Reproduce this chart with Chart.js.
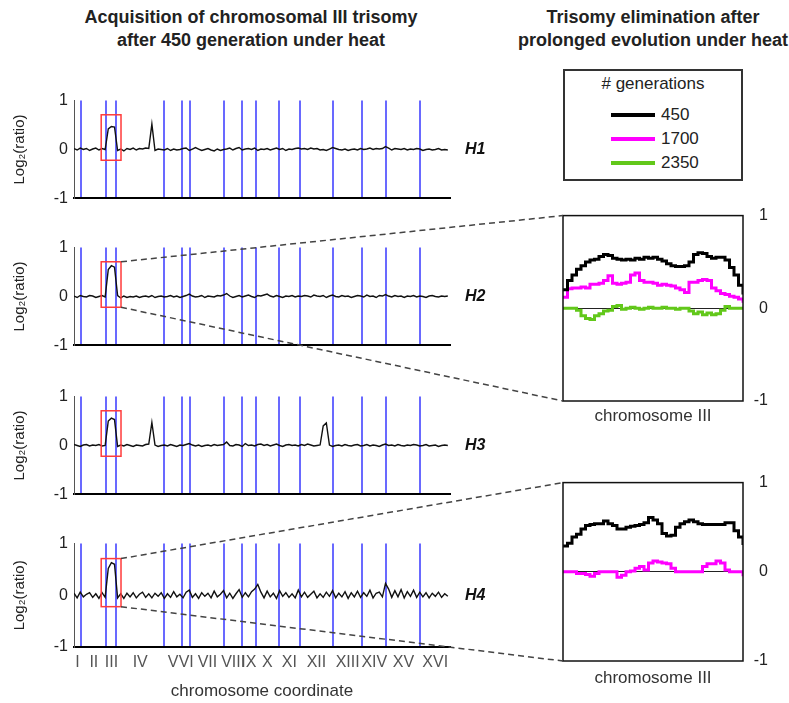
<!DOCTYPE html>
<html>
<head>
<meta charset="utf-8">
<script src="https://cdn.jsdelivr.net/npm/chart.js@4.4.1/dist/chart.umd.min.js"></script>
<style>
html, body { margin: 0; padding: 0; background: #fff; }
body { width: 789px; height: 703px; position: relative; overflow: hidden; font-family: 'Liberation Sans', Arial, sans-serif; color: #222; }
canvas { position: absolute; }
.title { position: absolute; text-align: center; font-weight: bold; font-size: 18px; line-height: 23px; white-space: nowrap; color: #222; }
#legend { position: absolute; left: 563px; top: 69px; width: 180px; height: 112px; box-sizing: border-box; border: 2px solid #333; }
#legend .head { position: absolute; left: 0; right: 0; top: 3px; text-align: center; font-size: 17px; line-height: 20px; }
#legend .row { position: absolute; left: 46px; height: 20px; font-size: 17px; line-height: 20px; }
#legend .row span { display: inline-block; width: 44px; height: 4px; vertical-align: middle; margin-right: 6px; position: relative; top: -1px; }
</style>
</head>
<body>
<div class="title" style="left:0;width:502px;top:6px;">Acquisition of chromosomal III trisomy<br>after 450 generation under heat</div>
<div class="title" style="left:503px;width:300px;top:6px;">Trisomy elimination after<br>prolonged evolution under heat</div>

<canvas id="h1" width="500" height="129" style="left:0;top:85px;"></canvas>
<canvas id="h2" width="500" height="129" style="left:0;top:232px;"></canvas>
<canvas id="h3" width="500" height="129" style="left:0;top:381px;"></canvas>
<canvas id="h4" width="500" height="174" style="left:0;top:528px;"></canvas>
<canvas id="z2" width="228" height="233" style="left:540px;top:194px;"></canvas>
<canvas id="z4" width="228" height="228" style="left:540px;top:461px;"></canvas>
<div id="legend"></div>
<canvas id="links" width="789" height="703" style="left:0;top:0;pointer-events:none;"></canvas>

<script>
// yeast chromosomes (kb)
const chrNames = ['I','II','III','IV','V','VI','VII','VIII','IX','X','XI','XII','XIII','XIV','XV','XVI'];
const chrLenKb = [230, 813, 316, 1532, 577, 270, 1091, 563, 440, 746, 667, 1078, 924, 784, 1091, 948];
const yTicks = [-1, 0, 1];
const probeStepKb = 100;   // genome-wide profiles: one value every 100 kb

const strainLabels = ['H1', 'H2', 'H3', 'H4'];

const h1Ratio = [
  0.02,-0.01,0.03,0.00,0.02,-0.02,0.01,0.03,-0.01,0.02,
  0.00,0.42,0.47,0.46,-0.02,0.01,-0.03,0.02,0.00,0.03,
  -0.01,0.02,0.01,0.03,0.02,0.52,-0.02,0.01,0.00,-0.01,
  0.02,-0.02,0.01,-0.01,0.00,0.02,0.03,-0.02,0.01,0.04,
  0.01,-0.02,0.00,0.02,-0.01,-0.03,0.01,-0.02,0.00,0.01,
  0.03,-0.01,0.02,0.04,-0.01,0.01,0.02,0.00,0.03,-0.02,
  0.01,0.00,0.02,-0.01,0.01,0.03,0.00,0.02,-0.02,0.01,
  0.00,0.02,0.03,0.01,0.02,0.00,0.03,0.01,0.02,-0.01,
  0.00,-0.02,0.01,0.04,0.02,0.00,-0.01,0.01,-0.02,0.00,
  0.01,-0.01,0.02,0.00,0.01,0.03,0.00,0.02,0.01,0.02,
  0.06,0.03,-0.01,0.02,0.01,0.00,0.02,-0.01,0.01,0.00,
  0.02,0.01,-0.02,0.00,0.01,-0.01,0.00,0.02,-0.01,0.00,
  -0.01
];
const h2Ratio = [
  0.01,-0.02,0.02,0.00,-0.01,0.02,0.01,-0.02,0.00,0.02,
  -0.01,0.55,0.63,0.60,0.02,-0.03,0.01,-0.02,0.00,-0.01,
  0.01,-0.02,0.00,0.01,-0.01,0.02,-0.02,0.00,0.01,-0.01,
  0.00,0.02,-0.01,0.01,-0.02,0.00,0.02,0.05,0.01,-0.01,
  0.00,0.02,-0.02,0.01,0.00,-0.01,0.02,0.01,0.03,0.06,
  0.01,-0.02,0.00,0.02,-0.01,0.01,0.03,0.00,-0.02,0.02,
  0.01,0.03,0.05,0.01,-0.01,0.02,0.00,-0.02,0.01,0.00,
  0.02,-0.01,0.01,0.00,0.02,0.01,-0.01,0.03,0.01,0.00,
  0.02,-0.02,0.01,0.03,0.00,-0.01,0.02,0.00,0.01,-0.02,
  0.00,0.02,0.01,-0.01,0.03,0.00,0.01,-0.02,0.02,0.01,
  0.04,0.01,-0.01,0.02,0.00,0.01,-0.02,0.01,0.00,0.02,
  -0.01,0.01,0.00,-0.02,0.01,0.02,0.00,-0.01,0.01,0.00,
  0.01
];
const h3Ratio = [
  0.02,0.00,-0.02,0.01,0.02,-0.01,0.01,0.00,0.02,-0.01,
  0.00,0.50,0.56,0.53,-0.02,0.01,-0.01,0.02,0.00,-0.02,
  0.01,0.00,-0.01,0.02,0.03,0.47,0.01,-0.02,0.00,0.01,
  -0.01,0.02,0.00,-0.02,0.01,0.00,0.02,0.04,0.01,-0.01,
  0.01,-0.02,0.00,0.01,-0.01,0.02,0.00,0.01,0.02,0.07,
  0.00,-0.01,0.02,0.01,-0.02,0.04,0.00,0.01,-0.01,0.02,
  0.03,0.00,0.02,-0.01,0.01,0.03,0.00,-0.02,0.01,0.02,
  0.00,0.01,-0.01,0.02,0.00,0.03,0.01,-0.01,0.00,0.01,
  0.40,0.46,0.01,-0.02,0.00,0.01,-0.01,0.02,0.00,-0.01,
  0.01,0.02,-0.01,0.00,0.02,-0.01,0.01,0.00,-0.02,0.01,
  0.03,0.00,0.01,-0.01,0.02,0.00,-0.01,0.01,0.00,0.02,
  0.01,-0.01,0.00,0.02,-0.01,0.00,0.01,-0.02,0.00,0.01,
  0.00
];
const h4Ratio = [
  0.04,-0.05,0.06,-0.03,0.02,0.05,-0.04,0.03,-0.06,0.05,
  -0.04,0.52,0.63,0.60,-0.05,0.03,-0.06,0.04,-0.03,0.05,
  -0.05,0.02,0.06,-0.04,0.03,-0.05,0.04,-0.02,0.05,-0.06,
  0.03,-0.04,0.07,-0.03,0.02,-0.05,0.06,0.10,-0.04,0.03,
  -0.06,0.05,-0.02,0.04,-0.05,0.08,-0.03,0.02,0.09,-0.05,
  0.04,-0.06,0.03,0.11,-0.04,0.05,-0.03,0.07,0.12,0.21,
  0.06,-0.05,0.08,-0.03,0.04,-0.06,0.09,-0.02,0.05,-0.04,
  0.03,-0.05,0.10,-0.03,0.06,-0.04,0.02,0.08,-0.05,0.03,
  -0.04,0.06,-0.02,0.09,-0.05,0.04,-0.03,0.07,-0.06,0.05,
  -0.03,0.08,-0.04,0.05,-0.02,0.10,-0.05,0.04,0.06,-0.03,
  0.23,0.12,-0.04,0.09,-0.03,0.11,-0.05,0.07,-0.02,0.10,
  -0.04,0.06,-0.03,0.05,-0.05,0.04,-0.02,0.06,-0.04,0.03,
  -0.02
];

// chromosome III close-ups, 41 values evenly along the chromosome
const generations = ['450', '1700', '2350'];
const genColors = ['#000000', '#ff00ff', '#62c81a'];
const h2Gen450 = [0.20,0.30,0.36,0.42,0.46,0.50,0.52,0.53,0.56,0.58,0.57,0.54,0.53,0.52,0.53,0.52,0.54,0.53,0.55,0.54,0.55,0.53,0.51,0.48,0.46,0.45,0.45,0.46,0.50,0.58,0.60,0.59,0.56,0.54,0.55,0.55,0.52,0.44,0.36,0.25,0.15];
const h2Gen1700 = [0.12,0.21,0.22,0.22,0.23,0.22,0.26,0.26,0.27,0.30,0.35,0.27,0.26,0.27,0.28,0.36,0.38,0.30,0.28,0.28,0.27,0.25,0.26,0.25,0.24,0.22,0.20,0.17,0.28,0.28,0.30,0.31,0.30,0.22,0.19,0.16,0.15,0.13,0.12,0.10,0.06];
const h2Gen2350 = [0,0,0,-0.02,-0.08,-0.11,-0.12,-0.08,-0.06,-0.03,-0.02,0.02,0.03,-0.01,0,0.01,0,-0.01,0,0.01,0,0,0.01,0,0,-0.01,0,0,-0.03,-0.06,-0.04,-0.07,-0.05,-0.07,-0.06,-0.02,0.02,0,0,0,0];
const h4Gen450 = [0.29,0.32,0.39,0.42,0.48,0.52,0.53,0.54,0.54,0.57,0.54,0.52,0.48,0.48,0.50,0.51,0.52,0.53,0.55,0.61,0.58,0.54,0.43,0.40,0.41,0.50,0.54,0.56,0.58,0.56,0.54,0.53,0.53,0.53,0.53,0.53,0.55,0.55,0.46,0.39,0.30];
const h4Gen1700 = [0,0,0,-0.02,-0.02,-0.03,-0.05,-0.02,0,0,0,0,-0.06,-0.04,0,0.01,0.04,0.06,0.02,0.10,0.12,0.11,0.10,0.09,0.04,0,0,0,0,0,0,0.06,0.09,0.09,0.12,0.10,0.02,0,0,0,-0.05];

Chart.defaults.font.family = "'Liberation Sans', Arial, sans-serif";
Chart.defaults.color = '#222';

const chrStart = [];
let genomeKb = 0;
chrLenKb.forEach(len => { chrStart.push(genomeKb); genomeKb += len; });
const chrBounds = chrStart.slice(1);
const chrMids = chrStart.map((s, i) => s + chrLenKb[i] / 2);
const chr3 = chrNames.indexOf('III');
const zoomBox = { x0: chrStart[chr3] - 170, x1: chrStart[chr3] + chrLenKb[chr3] + 150, y0: -0.22, y1: 0.71 };

const strainTag = {
  id: 'strainTag',
  afterDraw(chart, args, opts) {
    const { ctx, chartArea, scales } = chart;
    ctx.save();
    ctx.font = "italic bold 16px 'Liberation Sans', Arial, sans-serif";
    ctx.fillStyle = '#111';
    ctx.textBaseline = 'middle';
    ctx.fillText(opts.text, chartArea.right + 15, scales.y.getPixelForValue(0));
    ctx.restore();
  }
};

const redBox = {
  id: 'redBox',
  afterDatasetsDraw(chart) {
    const { ctx, scales: { x, y } } = chart;
    const l = x.getPixelForValue(zoomBox.x0), r = x.getPixelForValue(zoomBox.x1);
    const t = y.getPixelForValue(zoomBox.y1), b = y.getPixelForValue(zoomBox.y0);
    ctx.save();
    ctx.strokeStyle = '#ff3b3b';
    ctx.lineWidth = 1.5;
    ctx.strokeRect(l, t, r - l, b - t);
    ctx.restore();
  }
};

const frame = {
  id: 'frame',
  afterDraw(chart) {
    const { ctx, chartArea: a } = chart;
    ctx.save();
    ctx.strokeStyle = '#111';
    ctx.lineWidth = 1.5;
    ctx.strokeRect(a.left, a.top, a.right - a.left, a.bottom - a.top);
    ctx.restore();
  }
};

function genomePanel(id, ratios, label, showAxis) {
  const xTicks = chrBounds.concat(chrMids).sort((a, b) => a - b);
  return new Chart(document.getElementById(id), {
    type: 'line',
    data: {
      datasets: [{
        data: ratios.map((v, i) => ({ x: i * probeStepKb, y: v })),
        borderColor: '#111',
        borderWidth: 1.4,
        pointRadius: 0,
        tension: 0
      }]
    },
    options: {
      responsive: false,
      animation: false,
      layout: { padding: { top: 12, right: 50, bottom: showAxis ? 0 : 10, left: 0 } },
      plugins: { legend: { display: false }, tooltip: { enabled: false }, strainTag: { text: label } },
      scales: {
        x: {
          type: 'linear',
          min: 0,
          max: genomeKb,
          afterBuildTicks: s => { s.ticks = xTicks.map(v => ({ value: v })); },
          afterFit: s => { s.height = showAxis ? 55 : 0; },
          ticks: {
            display: showAxis,
            autoSkip: false,
            maxRotation: 0,
            minRotation: 0,
            padding: 6,
            color: '#555',
            font: { size: 16, family: "'Liberation Sans Narrow', 'Liberation Sans', Arial, sans-serif" },
            callback: v => { const i = chrMids.indexOf(v); return i >= 0 ? chrNames[i] : ''; }
          },
          grid: {
            drawTicks: false,
            color: c => (c.tick && chrBounds.includes(c.tick.value)) ? 'rgba(55,55,255,0.75)' : 'rgba(0,0,0,0)',
            lineWidth: 2
          },
          border: { display: true, color: '#000', width: 2 },
          title: { display: showAxis, text: 'chromosome coordinate', color: '#333', font: { size: 17 }, padding: { top: 0, bottom: 0 } }
        },
        y: {
          min: -1,
          max: 1,
          afterBuildTicks: s => { s.ticks = yTicks.map(v => ({ value: v })); },
          afterFit: s => { s.width = 74; },
          ticks: { padding: 6, color: '#222', font: { size: 16 } },
          grid: { display: false, drawTicks: false },
          border: { display: true, color: '#555', width: 1 },
          title: { display: true, text: 'Log\u2082(ratio)', color: '#222', font: { size: 15 }, padding: { top: 11, bottom: 0 } }
        }
      }
    },
    plugins: [strainTag, redBox]
  });
}

function chr3Panel(id, seriesValues, axisHeight) {
  const chr3Len = chrLenKb[chr3];
  return new Chart(document.getElementById(id), {
    type: 'line',
    data: {
      datasets: seriesValues.map((vals, k) => ({
        label: generations[k],
        data: vals.map((v, i) => ({ x: i * chr3Len / (vals.length - 1), y: v })),
        borderColor: genColors[k],
        borderWidth: 3,
        pointRadius: 0,
        stepped: true
      }))
    },
    options: {
      responsive: false,
      animation: false,
      layout: { padding: { top: 12, left: 23, right: 0, bottom: 0 } },
      plugins: { legend: { display: false }, tooltip: { enabled: false } },
      scales: {
        x: {
          type: 'linear',
          min: 0,
          max: chr3Len,
          afterFit: s => { s.height = axisHeight; },
          ticks: { display: false },
          grid: { display: false },
          border: { display: false },
          title: { display: true, text: 'chromosome III', color: '#333', font: { size: 17 }, padding: 0 }
        },
        y: {
          position: 'right',
          min: -1,
          max: 1,
          z: 1,
          afterBuildTicks: s => { s.ticks = yTicks.map(v => ({ value: v })); },
          afterFit: s => { s.width = 25; },
          ticks: { crossAlign: 'far', padding: 12, color: '#222', font: { size: 16 } },
          grid: {
            drawTicks: false,
            color: c => (c.tick && c.tick.value === 0) ? '#222' : 'rgba(0,0,0,0)',
            lineWidth: 1
          },
          border: { display: false }
        }
      }
    },
    plugins: [frame]
  });
}

const ratioSets = [h1Ratio, h2Ratio, h3Ratio, h4Ratio];
const genomeCharts = ['h1', 'h2', 'h3', 'h4'].map((id, i) => genomePanel(id, ratioSets[i], strainLabels[i], i === 3));
const zoomUpper = chr3Panel('z2', [h2Gen450, h2Gen1700, h2Gen2350], 26);
const zoomLower = chr3Panel('z4', [h4Gen450, h4Gen1700], 28);

// legend
const legend = document.getElementById('legend');
legend.innerHTML = '<div class="head"># generations</div>' +
  generations.map((g, i) => '<div class="row" style="top:' + (34 + i * 24) + 'px"><span style="background:' + genColors[i] + '"></span>' + g + '</div>').join('');

// dashed connectors from the red boxes to the close-ups
function onPage(chart, px, py) {
  return [chart.canvas.offsetLeft + px, chart.canvas.offsetTop + py];
}
const lctx = document.getElementById('links').getContext('2d');
lctx.strokeStyle = '#444';
lctx.lineWidth = 1.5;
lctx.setLineDash([6, 4]);
[[genomeCharts[1], zoomUpper], [genomeCharts[3], zoomLower]].forEach(([src, dst]) => {
  const sx = src.scales.x.getPixelForValue(zoomBox.x1);
  const top = onPage(src, sx, src.scales.y.getPixelForValue(zoomBox.y1));
  const bot = onPage(src, sx, src.scales.y.getPixelForValue(zoomBox.y0));
  const a = dst.chartArea;
  const dTop = onPage(dst, a.left, a.top);
  const dBot = onPage(dst, a.left, a.bottom);
  lctx.beginPath();
  lctx.moveTo(top[0], top[1]); lctx.lineTo(dTop[0], dTop[1]);
  lctx.moveTo(bot[0], bot[1]); lctx.lineTo(dBot[0], dBot[1]);
  lctx.stroke();
});
</script>
</body>
</html>
